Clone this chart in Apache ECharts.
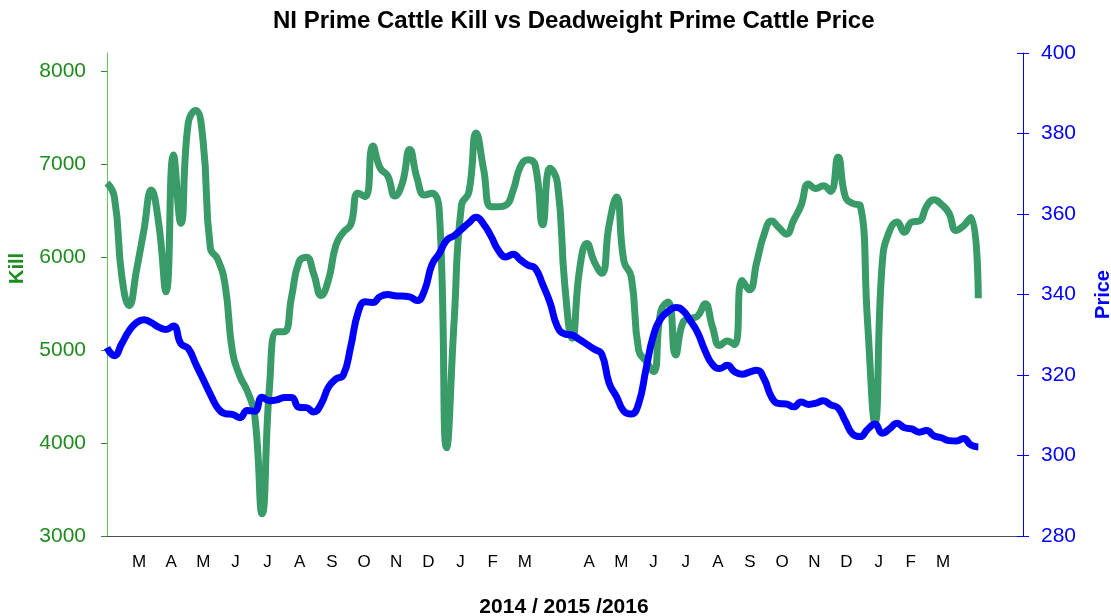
<!DOCTYPE html>
<html>
<head>
<meta charset="utf-8">
<title>NI Prime Cattle Kill vs Deadweight Prime Cattle Price</title>
<script src="https://cdn.jsdelivr.net/npm/echarts@6/dist/echarts.min.js"></script>
<style>
  html, body { margin: 0; padding: 0; background: #fff; }
  #chart { width: 1111px; height: 616px; }
</style>
</head>
<body>
<div id="chart"></div>
<script>
// weekly kill numbers (head), one value per week
var killData = [
  6800, 6650, 5800, 5480, 5863, 6294, 6725, 6366, 5629, 7102,
  6366, 7444, 7580, 7264, 6100, 5980, 5700, 4980, 4720, 4560,
  4300, 3240, 4600, 5200, 5200, 5575, 5950, 6000, 5820, 5590,
  5760, 6130, 6270, 6350, 6690, 6653, 7200, 6960, 6880, 6660,
  6800, 7160, 6850, 6670, 6690, 6500, 3950, 5300, 6560, 6700,
  7340, 6950, 6545, 6545, 6560, 6720, 6980, 7050, 6990, 6350,
  6960, 6800, 5700, 5130, 5870, 6150, 5950, 5830, 6350, 6650,
  5960, 5790, 5000, 4880, 4770, 5420, 5520, 4950, 5300, 5340,
  5370, 5500, 5250, 5050, 5100, 5060, 5750, 5650, 5950, 6250,
  6390, 6320, 6250, 6400, 6560, 6790, 6740, 6770, 6710, 7080,
  6650, 6580, 6560, 5300, 4220, 5950, 6290, 6380, 6270, 6380,
  6390, 6550, 6620, 6570, 6480, 6290, 6340, 6430, 5560
]

// weekly deadweight price (p/kg)
var priceData = [
  326.8, 324.8, 327.8, 331.0, 333.0, 333.7, 333.0, 331.9, 331.3, 332.2,
  327.8, 326.6, 322.8, 319.0, 315.2, 311.8, 310.4, 310.2, 309.4, 311.2,
  311.0, 314.5, 313.6, 313.8, 314.4, 314.4, 312.0, 311.9, 310.8, 312.8,
  317.0, 319.0, 320.0, 327.0, 335.5, 338.2, 338.0, 339.5, 340.0, 339.7,
  339.6, 339.4, 338.5, 341.0, 347.4, 350.2, 353.5, 354.6, 356.2, 357.8,
  359.2, 357.5, 354.5, 351.0, 349.3, 350.0, 348.6, 347.3, 346.5, 342.5,
  338.0, 332.0, 330.2, 329.9, 328.8, 327.6, 326.4, 325.2, 318.0, 314.6,
  311.0, 310.3, 312.9, 321.5, 329.8, 334.0, 335.8, 336.8, 336.0, 333.5,
  330.5, 326.0, 322.6, 321.6, 322.4, 320.8, 320.2, 320.7, 321.2, 319.0,
  314.5, 312.9, 312.8, 312.1, 313.3, 312.7, 313.0, 313.6, 312.6, 311.8,
  308.5, 305.3, 304.7, 306.5, 307.8, 305.5, 306.7, 308.0, 306.9, 306.6,
  305.8, 306.2, 304.9, 304.4, 303.7, 303.6, 304.2, 302.6, 302.1
]

// month labels and where they sit (in weeks)
var monthLabels = ['M', 'A', 'M', 'J', 'J', 'A', 'S', 'O', 'N', 'D', 'J', 'F', 'M', '',
  'A', 'M', 'J', 'J', 'A', 'S', 'O', 'N', 'D', 'J', 'F', 'M']
var monthTicks = [4.33, 8.69, 13.04, 17.40, 21.75, 26.11, 30.46, 34.82, 39.17, 43.53, 47.88, 52.24, 56.59, 60.95,
  65.30, 69.66, 74.01, 78.37, 82.72, 87.08, 91.43, 95.79, 100.14, 104.50, 108.85, 113.21]

var killTicks = [3000, 4000, 5000, 6000, 7000, 8000]

var font = 'Liberation Sans, Arial, sans-serif'
var green = '#1e8c1e'
var blue = '#0000ff'

function plain (v) {
  return String(v)
}

var chart = echarts.init(document.getElementById('chart'))
chart.setOption({
  backgroundColor: '#fff',
  animation: false,
  textStyle: { fontFamily: font },
  title: {
    text: 'NI Prime Cattle Kill vs Deadweight Prime Cattle Price',
    left: 268,
    top: 4,
    textStyle: {
      color: '#000',
      fontSize: 24,
      fontWeight: 'bold',
      fontFamily: font
    }
  },
  grid: {
    left: 105,
    right: 88,
    top: 53,
    bottom: 80,
    containLabel: false,
    outerBoundsMode: 'none'
  },
  xAxis: {
    type: 'value',
    min: -0.27,
    max: 124.05,
    name: '2014 / 2015 /2016',
    nameLocation: 'middle',
    nameGap: 61,
    nameTextStyle: { color: '#000', fontSize: 21, fontWeight: 'bold' },
    axisLine: { show: true, lineStyle: { color: '#4d4d4d', width: 1 } },
    axisTick: { show: false },
    splitLine: { show: false },
    axisLabel: {
      customValues: monthTicks,
      color: '#000',
      fontSize: 17,
      margin: 18,
      formatter: function (v) {
        var i = monthTicks.indexOf(v)
        return i >= 0 ? monthLabels[i] : ''
      }
    }
  },
  yAxis: [
    {
      type: 'value',
      position: 'left',
      min: 3000,
      max: 8200,
      interval: 1000,
      name: 'Kill',
      nameLocation: 'middle',
      nameRotate: 90,
      nameGap: 78,
      nameTextStyle: { color: green, fontSize: 20, fontWeight: 'bold', padding: [0, 0, 0, 52] },
      axisLine: { show: true, lineStyle: { color: '#6cbf6c', width: 1 } },
      axisTick: { show: true, length: 6, customValues: killTicks, lineStyle: { color: '#2e8b2e' } },
      axisLabel: { customValues: killTicks, color: green, fontSize: 21, margin: 19, formatter: plain },
      splitLine: { show: false }
    },
    {
      type: 'value',
      position: 'right',
      min: 280,
      max: 400,
      interval: 20,
      name: 'Price',
      nameLocation: 'middle',
      nameRotate: 90,
      nameGap: 70,
      nameTextStyle: { color: blue, fontSize: 20, fontWeight: 'bold' },
      axisLine: { show: true, lineStyle: { color: blue, width: 1 } },
      axisTick: { show: true, length: 6, lineStyle: { color: blue } },
      axisLabel: { color: blue, fontSize: 21, margin: 18, formatter: plain },
      splitLine: { show: false }
    },
    {
      // inner half of the crossing ticks on the price axis
      type: 'value',
      position: 'right',
      min: 280,
      max: 400,
      interval: 20,
      axisLine: { show: false },
      axisTick: { show: true, inside: true, length: 6, lineStyle: { color: blue } },
      axisLabel: { show: false },
      splitLine: { show: false }
    }
  ],
  series: [
    {
      name: 'Kill',
      type: 'line',
      yAxisIndex: 0,
      smooth: true,
      symbol: 'none',
      lineStyle: { color: '#389b68', width: 7 },
      data: killData.map(function (v, i) { return [i, v] })
    },
    {
      name: 'Price',
      type: 'line',
      yAxisIndex: 1,
      smooth: true,
      symbol: 'none',
      lineStyle: { color: blue, width: 7 },
      data: priceData.map(function (v, i) { return [i, v] })
    }
  ]
})
</script>
</body>
</html>
